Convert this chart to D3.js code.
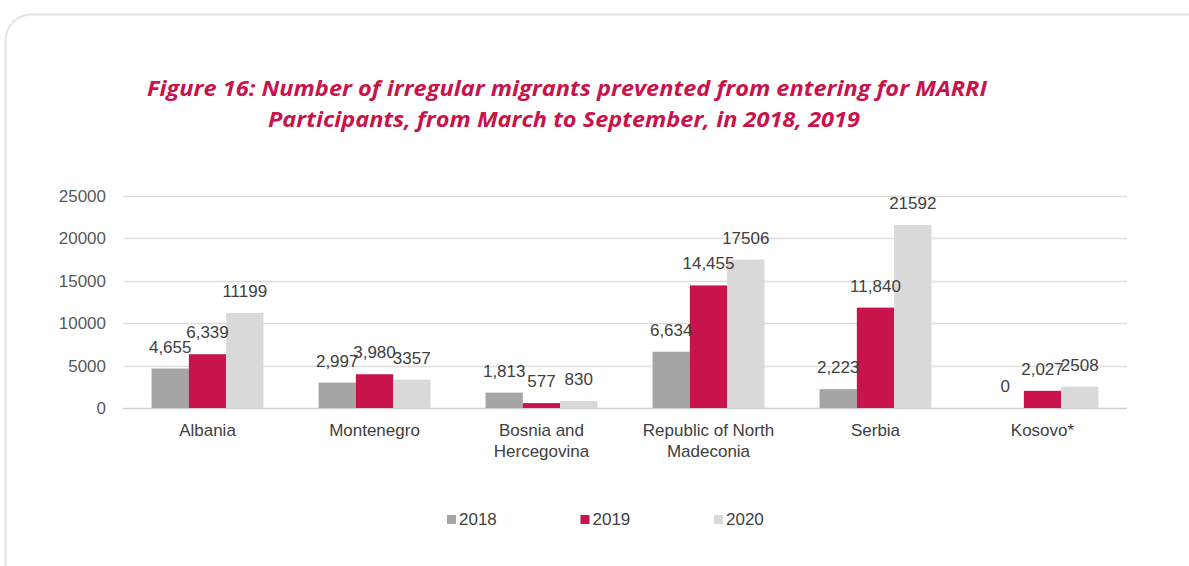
<!DOCTYPE html>
<html>
<head>
<meta charset="utf-8">
<script src="https://cdn.jsdelivr.net/npm/d3@7"></script>
<style>
  body { margin: 0; background: #fff; }
  svg { display: block; }
</style>
</head>
<body>
<svg id="chart" width="1189" height="566"></svg>
<script>
// data
const countries = ["Albania", "Montenegro", "Bosnia and Hercegovina", "Republic of North Madeconia", "Serbia", "Kosovo*"];
const countryLines = [["Albania"], ["Montenegro"], ["Bosnia and", "Hercegovina"], ["Republic of North", "Madeconia"], ["Serbia"], ["Kosovo*"]];
const years = ["2018", "2019", "2020"];
const values2018 = [4655, 2997, 1813, 6634, 2223, 0];
const values2019 = [6339, 3980, 577, 14455, 11840, 2027];
const values2020 = [11199, 3357, 830, 17506, 21592, 2508];
const yTicks = [0, 5000, 10000, 15000, 20000, 25000];
const colors = ["#a5a5a5", "#c8134b", "#d9d9d9"];
const titleLines = ["Figure 16: Number of irregular  migrants prevented from entering for MARRI",
                    "Participants, from March to September, in 2018, 2019"];

const series = [values2018, values2019, values2020];
const labelFmt = [d3.format(","), d3.format(","), d3.format("d")];
const font = "'Liberation Sans', Arial, sans-serif";

const svg = d3.select("#chart");

// card frame
svg.append("rect")
  .attr("x", 5.5).attr("y", 14.5)
  .attr("width", 1220).attr("height", 620)
  .attr("rx", 26)
  .attr("fill", "none")
  .attr("stroke", "#e3e3e3")
  .attr("stroke-width", 2);

// title
const title = svg.append("g")
  .attr("font-family", "'Open Sans', sans-serif")
  .attr("font-style", "italic")
  .attr("font-weight", "bold")
  .attr("font-size", 20.5)
  .attr("fill", "#c8134b");
title.append("text").attr("x", 147).attr("y", 96)
  .attr("textLength", 840).attr("lengthAdjust", "spacingAndGlyphs")
  .text(titleLines[0]);
title.append("text").attr("x", 268).attr("y", 127)
  .attr("textLength", 592).attr("lengthAdjust", "spacingAndGlyphs")
  .text(titleLines[1]);

const margin = {left: 123, right: 62, top: 196, bottom: 158};
const W = 1189, H = 566;

const x0 = d3.scaleBand()
  .domain(countries)
  .range([margin.left, W - margin.right])
  .paddingInner(0.33)
  .paddingOuter(0.171);

const x1 = d3.scaleBand()
  .domain(years)
  .range([0, x0.bandwidth()]);

const y = d3.scaleLinear()
  .domain([0, 25000])
  .range([H - margin.bottom, margin.top]);

// gridlines
svg.append("g")
  .selectAll("line")
  .data(yTicks)
  .join("line")
  .attr("x1", margin.left).attr("x2", W - margin.right)
  .attr("y1", d => Math.round(y(d)) + 0.5).attr("y2", d => Math.round(y(d)) + 0.5)
  .attr("stroke", d => d === 0 ? "#d0d0d0" : "#dedede")
  .attr("stroke-width", 1.5);

// y axis labels
const yAxis = svg.append("g")
  .attr("transform", `translate(${margin.left - 17},0)`)
  .call(d3.axisLeft(y).tickValues(yTicks).tickSize(0).tickPadding(0).tickFormat(d3.format("d")));
yAxis.select(".domain").remove();
yAxis.selectAll("text")
  .attr("font-family", font)
  .attr("font-size", 17)
  .attr("fill", "#595959");

// bars
const groups = svg.append("g")
  .selectAll("g")
  .data(countries)
  .join("g")
  .attr("transform", d => `translate(${x0(d)},0)`);

groups.selectAll("rect")
  .data((d, i) => years.map((yr, k) => ({yr, k, v: series[k][i]})))
  .join("rect")
  .attr("x", d => x1(d.yr))
  .attr("width", x1.bandwidth())
  .attr("y", d => y(d.v))
  .attr("height", d => y(0) - y(d.v))
  .attr("fill", d => colors[d.k]);

groups.selectAll("text")
  .data((d, i) => years.map((yr, k) => ({yr, k, v: series[k][i]})))
  .join("text")
  .attr("x", d => x1(d.yr) + x1.bandwidth() / 2)
  .attr("y", d => y(d.v) - 16)
  .attr("text-anchor", "middle")
  .attr("font-family", font)
  .attr("font-size", 17)
  .attr("fill", "#404040")
  .text(d => labelFmt[d.k](d.v));

// category labels
const xl = svg.append("g")
  .selectAll("text")
  .data(countries)
  .join("text")
  .attr("x", d => x0(d) + x0.bandwidth() / 2)
  .attr("y", y(0) + 28)
  .attr("text-anchor", "middle")
  .attr("font-family", font)
  .attr("font-size", 17)
  .attr("fill", "#404040");
xl.selectAll("tspan")
  .data((d, i) => countryLines[i])
  .join("tspan")
  .attr("x", function() { return this.parentNode.getAttribute("x"); })
  .attr("dy", (d, i) => i === 0 ? 0 : 21)
  .text(d => d);

// legend
const legend = svg.append("g")
  .selectAll("g")
  .data(years)
  .join("g")
  .attr("transform", (d, i) => `translate(${447 + i * 133.5},519)`);
legend.append("rect")
  .attr("x", 0).attr("y", -4).attr("width", 9).attr("height", 9)
  .attr("fill", (d, i) => colors[i]);
legend.append("text")
  .attr("x", 12).attr("y", 6)
  .attr("font-family", font)
  .attr("font-size", 17)
  .attr("fill", "#404040")
  .text(d => d);
</script>
</body>
</html>
